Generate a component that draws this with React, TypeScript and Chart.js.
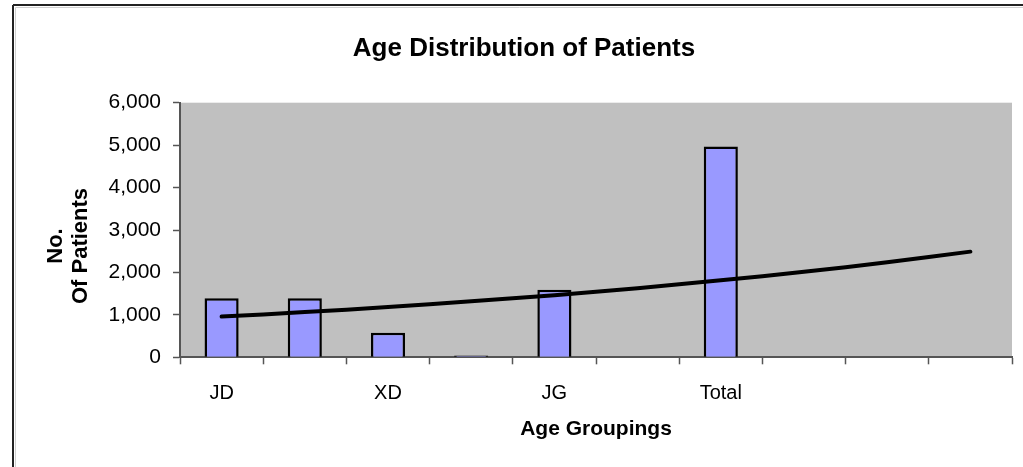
import React, { useEffect, useRef } from "react";
import { Chart, registerables } from "chart.js";

Chart.register(...registerables);

const categories = ["JD", "", "XD", "", "JG", "", "Total", "", "", ""];
const patients = [1390, 1390, 580, 40, 1590, null, 4970, null, null, null];
const trendValues = [960, 1065, 1185, 1320, 1465, 1630, 1815, 2015, 2240, 2490];
const yTitleLines = ["No.", "Of Patients"];
const chartTitle = "Age Distribution of Patients";
const xTitle = "Age Groupings";

const FONT = '"Liberation Sans", Arial, Helvetica, sans-serif';

const decorPlugin = {
  id: "decor",
  beforeDraw(chart: any) {
    const { ctx, chartArea } = chart;
    ctx.save();
    ctx.fillStyle = "#C0C0C0";
    ctx.fillRect(chartArea.left, chartArea.top, chartArea.right - chartArea.left, chartArea.bottom - chartArea.top);
    ctx.restore();
  },
  afterDraw(chart: any) {
    const { ctx } = chart;
    ctx.save();
    // outer frame (top + left)
    ctx.strokeStyle = "#D0D0D0";
    ctx.lineWidth = 1;
    ctx.beginPath();
    ctx.moveTo(15.5, 7.5);
    ctx.lineTo(1023, 7.5);
    ctx.moveTo(15.5, 7.5);
    ctx.lineTo(15.5, 467);
    ctx.stroke();
    ctx.strokeStyle = "#222";
    ctx.lineWidth = 2;
    ctx.beginPath();
    ctx.moveTo(13, 5);
    ctx.lineTo(1023, 5);
    ctx.moveTo(13, 5);
    ctx.lineTo(13, 467);
    ctx.stroke();
    // y-axis title
    ctx.fillStyle = "#000";
    ctx.font = `bold 22px ${FONT}`;
    ctx.textAlign = "center";
    ctx.textBaseline = "middle";
    const xs = [56, 81];
    yTitleLines.forEach((t, i) => {
      ctx.save();
      ctx.translate(xs[i], 246);
      ctx.rotate(-Math.PI / 2);
      ctx.fillText(t, 0, 0);
      ctx.restore();
    });
    ctx.restore();
  },
};

export default function App() {
  const ref = useRef<HTMLCanvasElement>(null);
  useEffect(() => {
    document.body.style.margin = "0";
    const chart = new Chart(ref.current!, {
      type: "bar",
      data: {
        labels: categories,
        datasets: [
          {
            type: "line",
            label: "Trend",
            data: trendValues,
            borderColor: "#000",
            borderWidth: 4,
            borderCapStyle: "round",
            pointRadius: 0,
            tension: 0.4,
            fill: false,
            order: 0,
          } as any,
          {
            type: "bar",
            label: "Patients",
            data: patients,
            backgroundColor: "#9999FF",
            borderColor: "#000",
            borderWidth: 2.5,
            categoryPercentage: 1,
            barPercentage: 0.41,
            order: 1,
          } as any,
        ],
      },
      options: {
        animation: false,
        responsive: false,
        layout: { padding: { left: 36, right: 11, top: 0, bottom: 0 } },
        plugins: {
          legend: { display: false },
          tooltip: { enabled: false },
          title: {
            display: true,
            text: chartTitle,
            color: "#000",
            font: { family: FONT, size: 26, weight: "bold" },
            padding: { top: 33, bottom: 38.5 },
          },
        },
        scales: {
          x: {
            offset: true,
            grid: {
              offset: true,
              drawOnChartArea: false,
              drawTicks: true,
              tickLength: 7,
              tickWidth: 1.5,
              tickColor: "#555",
            },
            border: { display: true, color: "#555", width: 2 },
            ticks: {
              autoSkip: false,
              maxRotation: 0,
              color: "#000",
              padding: 17,
              font: { family: FONT, size: 20 },
            },
            title: {
              display: true,
              text: xTitle,
              color: "#000",
              font: { family: FONT, size: 21, weight: "bold" },
              padding: { top: 0, bottom: 25 },
            },
            afterFit(scale: any) {
              scale.height = 109.7;
            },
          },
          y: {
            min: 0,
            max: 6000,
            grid: {
              drawOnChartArea: false,
              drawTicks: true,
              tickLength: 7,
              tickWidth: 1.5,
              tickColor: "#555",
            },
            border: { display: true, color: "#555", width: 2 },
            ticks: {
              stepSize: 1000,
              color: "#000",
              padding: 12,
              font: { family: FONT, size: 21 },
              callback: (v: any) => Number(v).toLocaleString("en-US"),
            },
            afterFit(scale: any) {
              scale.width = 144;
            },
          },
        },
      },
      plugins: [decorPlugin],
    });
    return () => chart.destroy();
  }, []);
  return (
    <div style={{ position: "absolute", left: 0, top: 0, width: 1023, height: 467, background: "#fff" }}>
      <canvas ref={ref} width={1023} height={467} style={{ display: "block" }} />
    </div>
  );
}
